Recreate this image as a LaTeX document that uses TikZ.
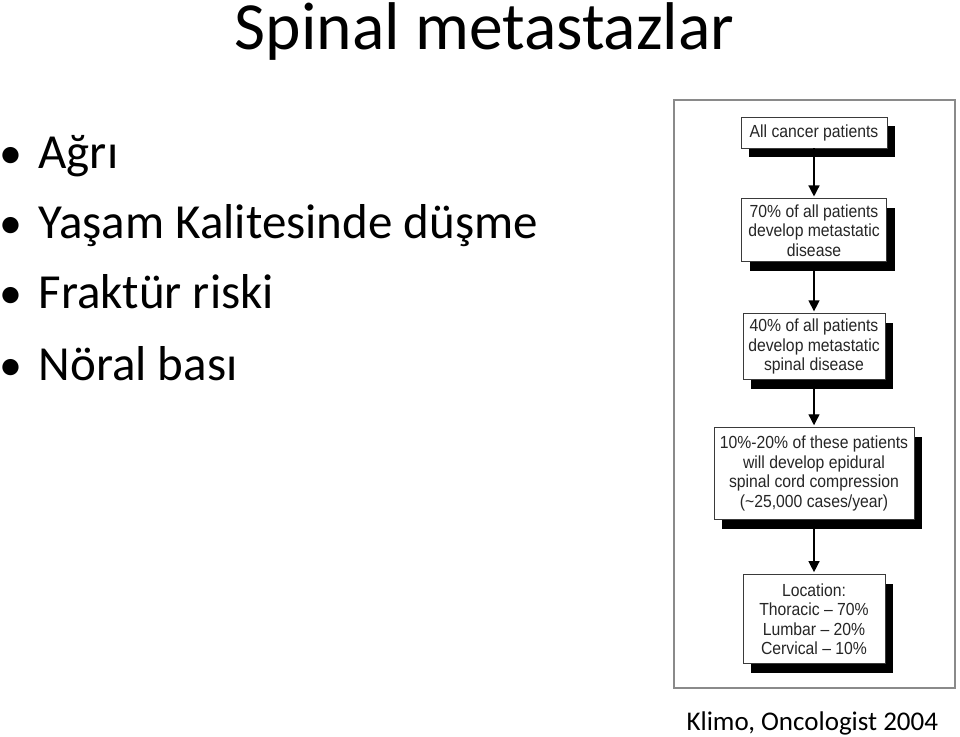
\documentclass[tikz,border=0pt]{standalone}
\usepackage{fontspec}
\setmainfont{Carlito}
\newfontfamily\flowfont[FakeStretch=0.9]{Liberation Sans}
\usetikzlibrary{positioning, arrows.meta, shadows}
\definecolor{boxgray}{HTML}{3A3A3A}
\definecolor{framegray}{HTML}{8A8A8A}
\definecolor{inkgray}{HTML}{262626}
\tikzset{
  x=1pt, y=-1pt, % one unit is one pixel of the slide, y runs downwards
  flow/.style={-{Triangle[length=11pt,width=11pt]}, line width=1.4pt, shorten >=2pt}, % arrows between the boxes
  box/.style={draw=boxgray, line width=0.9pt, fill=white, align=center, text=inkgray,
    font=\flowfont\fontsize{17.5}{19.5}\selectfont, inner sep=2pt,
    drop shadow={shadow xshift=8pt, shadow yshift=-9pt, fill=black, opacity=1}}, % boxes of the chart
  item/.style={anchor=base west, font=\fontsize{49}{52}\selectfont}, % the bullet texts
  dot/.style={anchor=base, font=\fontsize{46}{52}\selectfont}, % the bullets
}

\begin{document}
\begin{tikzpicture}
  \useasboundingbox (0,0) rectangle (960,736);

  % title and bullets
  \node[anchor=base, font=\fontsize{67.5}{70}\selectfont] (title) at (484.5,49) {Spinal metastazlar};

  \node[dot] (d1) at (11,168) {\textbullet};
  \node[item] (b1) at (35,168) {Ağrı};
  \node[dot] (d2) at (11,238) {\textbullet};
  \node[item] (b2) at (35,238) {Yaşam Kalitesinde düşme};
  \node[dot] (d3) at (11,308) {\textbullet};
  \node[item] (b3) at (35,308) {Fraktür riski};
  \node[dot] (d4) at (11,380) {\textbullet};
  \node[item] (b4) at (35,380) {Nöral bası};

  % frame of the figure
  \draw[framegray, line width=1.4pt] (674,100) rectangle (955,688);

  % flow chart
  \node[box, minimum width=146pt, minimum height=31pt] (0) at (814,132.5) {All cancer patients};
  \node[box, minimum width=145pt, minimum height=63pt, below=50pt of 0] (1)
    {70\% of all patients\\develop metastatic\\disease};
  \node[box, minimum width=142pt, minimum height=66pt, below=51pt of 1] (2)
    {40\% of all patients\\develop metastatic\\spinal disease};
  \node[box, minimum width=200pt, minimum height=92pt, below=47pt of 2] (3)
    {10\%-20\% of these patients\\will develop epidural\\spinal cord compression\\(\textasciitilde25,000 cases/year)};
  \node[box, minimum width=142pt, minimum height=89pt, below=54pt of 3] (4)
    {Location:\\Thoracic \textendash{} 70\%\\Lumbar \textendash{} 20\%\\Cervical \textendash{} 10\%};

  \draw[flow] (0) -- (1);
  \draw[flow] (1) -- (2);
  \draw[flow] (2) -- (3);
  \draw[flow] (3) -- (4);

  % source
  \node[anchor=base west, font=\fontsize{27}{30}\selectfont] (src) at (683,730) {Klimo, Oncologist 2004};
\end{tikzpicture}
\end{document}
